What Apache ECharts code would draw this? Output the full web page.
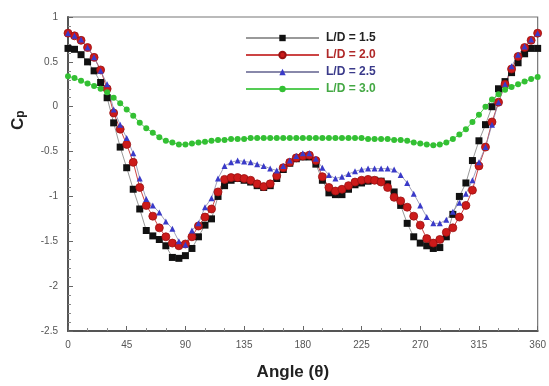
<!DOCTYPE html>
<html>
<head>
<meta charset="utf-8">
<script src="https://cdn.jsdelivr.net/npm/echarts@6/dist/echarts.min.js"></script>
<style>
  html, body { margin: 0; padding: 0; background: #fff; }
  #chart { width: 549px; height: 386px; }
</style>
</head>
<body>
<div id="chart"></div>
<script>
// Angular positions around the cylinder (degrees)
const angles = [];
for (let a = 0; a <= 360; a += 5) angles.push(a);

// Pressure coefficient Cp for each aspect ratio L/D
const cpLD15 = [0.65, 0.64, 0.58, 0.50, 0.40, 0.27, 0.10, -0.18, -0.45, -0.68,
  -0.92, -1.14, -1.38, -1.44, -1.48, -1.55, -1.68, -1.69, -1.66, -1.58,
  -1.45, -1.32, -1.25, -1.00, -0.88, -0.82, -0.80, -0.82, -0.84, -0.88,
  -0.90, -0.88, -0.80, -0.70, -0.63, -0.58, -0.56, -0.56, -0.64, -0.82,
  -0.96, -0.98, -0.98, -0.92, -0.87, -0.85, -0.83, -0.82, -0.83, -0.86,
  -0.95, -1.10, -1.30, -1.45, -1.52, -1.55, -1.58, -1.57, -1.45, -1.20,
  -1.00, -0.85, -0.60, -0.38, -0.20, 0.00, 0.20, 0.28, 0.38, 0.49,
  0.59, 0.65, 0.65];

const cpLD20 = [0.82, 0.79, 0.74, 0.66, 0.55, 0.41, 0.20, -0.07, -0.25, -0.42,
  -0.62, -0.90, -1.10, -1.22, -1.35, -1.45, -1.52, -1.55, -1.53, -1.45,
  -1.33, -1.23, -1.14, -0.95, -0.81, -0.79, -0.79, -0.80, -0.82, -0.86,
  -0.89, -0.86, -0.77, -0.68, -0.62, -0.57, -0.55, -0.54, -0.60, -0.78,
  -0.90, -0.94, -0.92, -0.88, -0.84, -0.82, -0.81, -0.82, -0.84, -0.90,
  -1.01, -1.05, -1.12, -1.22, -1.32, -1.47, -1.52, -1.48, -1.40, -1.35,
  -1.23, -1.10, -0.93, -0.66, -0.45, -0.17, 0.05, 0.25, 0.42, 0.56,
  0.66, 0.74, 0.82];

const cpLD25 = [0.82, 0.79, 0.75, 0.66, 0.55, 0.40, 0.25, -0.03, -0.20, -0.35,
  -0.52, -0.80, -1.03, -1.10, -1.18, -1.28, -1.36, -1.50, -1.54, -1.38,
  -1.30, -1.12, -1.02, -0.80, -0.66, -0.62, -0.60, -0.61, -0.62, -0.64,
  -0.66, -0.69, -0.71, -0.66, -0.60, -0.55, -0.52, -0.52, -0.58, -0.68,
  -0.76, -0.80, -0.78, -0.75, -0.72, -0.70, -0.69, -0.69, -0.69, -0.69,
  -0.70, -0.76, -0.85, -0.97, -1.10, -1.23, -1.30, -1.30, -1.26, -1.17,
  -1.07, -0.97, -0.82, -0.62, -0.45, -0.20, 0.05, 0.25, 0.45, 0.58,
  0.67, 0.75, 0.82];

const cpLD30 = [0.34, 0.32, 0.29, 0.26, 0.23, 0.20, 0.16, 0.10, 0.04, -0.03,
  -0.10, -0.18, -0.24, -0.29, -0.34, -0.38, -0.40, -0.42, -0.42, -0.41,
  -0.40, -0.39, -0.38, -0.37, -0.37, -0.36, -0.36, -0.36, -0.35, -0.35,
  -0.35, -0.35, -0.35, -0.35, -0.35, -0.35, -0.35, -0.35, -0.35, -0.35,
  -0.35, -0.35, -0.35, -0.35, -0.35, -0.35, -0.36, -0.36, -0.36, -0.36,
  -0.37, -0.37, -0.38, -0.40, -0.41, -0.42, -0.43, -0.42, -0.40, -0.36,
  -0.31, -0.25, -0.17, -0.09, 0.00, 0.08, 0.14, 0.19, 0.22, 0.25,
  0.28, 0.31, 0.33];

const seriesNames = ['L/D = 1.5', 'L/D = 2.0', 'L/D = 2.5', 'L/D = 3.0'];
const legendColors = ['#222', '#b02828', '#3a3a8a', '#44a844'];
const xTicks = [0, 45, 90, 135, 180, 225, 270, 315, 360];

function pairs(ys) {
  return angles.map((a, i) => [a, ys[i]]);
}

const chart = echarts.init(document.getElementById('chart'), null, { renderer: 'canvas' });

const fontFamily = 'Liberation Sans, Arial, sans-serif';
const axisFont = { fontFamily: fontFamily, fontSize: 10, color: '#555' };

chart.setOption({
  animation: false,
  backgroundColor: '#fff',
  grid: {
    left: 68, right: 11, top: 17, bottom: 53,
    show: true, borderColor: '#777', borderWidth: 1.2, backgroundColor: 'transparent'
  },
  xAxis: {
    type: 'value', min: 0, max: 360, interval: 45,
    axisLine: { show: true, onZero: false, lineStyle: { color: '#555', width: 2 } },
    axisTick: { show: true, inside: true, length: 5, lineStyle: { color: '#666', width: 1 } },
    minorTick: { show: true, splitNumber: 3, length: 3, lineStyle: { color: '#888' } },
    splitLine: { show: false },
    axisLabel: Object.assign({ margin: 9, formatter: v => xTicks.includes(v) ? String(v) : '' }, axisFont),
    name: 'Angle (\u03b8)', nameLocation: 'middle', nameGap: 33,
    nameTextStyle: { fontFamily: fontFamily, fontSize: 17, fontWeight: 'bold', color: '#222', padding: [0, 20, 0, 0] }
  },
  yAxis: {
    type: 'value', min: -2.5, max: 1, interval: 0.5,
    axisLine: { show: true, onZero: false, lineStyle: { color: '#555', width: 2 } },
    axisTick: { show: true, inside: true, length: 5, lineStyle: { color: '#666', width: 1 } },
    minorTick: { show: true, splitNumber: 5, length: 3, lineStyle: { color: '#888' } },
    splitLine: { show: false },
    axisLabel: Object.assign({ margin: 10 }, axisFont)
  },
  graphic: [{
    type: 'text', x: 9, y: 130, rotation: Math.PI / 2,
    style: {
      text: '{c|C}{p|p}',
      rich: {
        c: { fontFamily: fontFamily, fontSize: 17, fontWeight: 'bold', fill: '#222' },
        p: { fontFamily: fontFamily, fontSize: 12, fontWeight: 'bold', fill: '#222', padding: [6, 0, 0, 0] }
      }
    }
  }],
  legend: {
    orient: 'vertical', left: 240, top: 27,
    itemWidth: 73, itemHeight: 8, itemGap: 5,
    data: seriesNames.map((n, i) => ({ name: n, textStyle: { color: legendColors[i] } })),
    textStyle: { fontFamily: fontFamily, fontSize: 12, fontWeight: 'bold', padding: [0, 0, 0, 2] }
  },
  series: [
    {
      name: seriesNames[0], type: 'line', data: pairs(cpLD15),
      symbol: 'rect', symbolSize: 7,
      itemStyle: { color: '#111' },
      lineStyle: { color: '#999', width: 1 },
      emphasis: { disabled: true }
    },
    {
      name: seriesNames[1], type: 'line', data: pairs(cpLD20),
      symbol: 'circle', symbolSize: 8,
      itemStyle: { color: '#cc1a1a', borderColor: '#991111', borderWidth: 0.8 },
      lineStyle: { color: '#c44', width: 1 },
      emphasis: { disabled: true }
    },
    {
      name: seriesNames[2], type: 'line', data: pairs(cpLD25),
      symbol: 'triangle', symbolSize: 6,
      itemStyle: { color: '#3a3ac8' },
      lineStyle: { color: '#88a', width: 0.8 },
      emphasis: { disabled: true }
    },
    {
      name: seriesNames[3], type: 'line', data: pairs(cpLD30),
      symbol: 'circle', symbolSize: 6,
      itemStyle: { color: '#33c033' },
      lineStyle: { color: '#5c5', width: 1 },
      emphasis: { disabled: true }
    }
  ]
});
</script>
</body>
</html>
